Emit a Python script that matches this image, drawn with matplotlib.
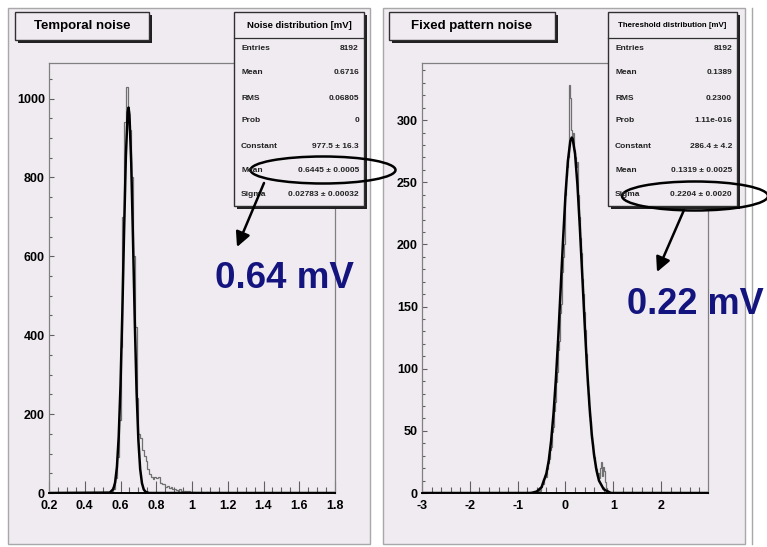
import numpy as np
import matplotlib
matplotlib.use("Agg")
import matplotlib.pyplot as plt
from matplotlib.patches import Rectangle, Ellipse
from matplotlib.ticker import MultipleLocator, FormatStrFormatter

plt.rcParams['font.family'] = ['Liberation Sans', 'DejaVu Sans']

# --- data -------------------------------------------------------------
# temporal noise histogram, 0.01 mV bins starting at 0.55 mV
tn_start, tn_width = 0.55, 0.01
tn_counts = [3, 11, 38, 92, 185, 370, 700, 940, 1030, 950,
             920, 800, 600, 420, 240, 150, 140, 110, 95, 80,
             62, 48, 40, 36, 40, 38, 40, 26, 22, 24,
             15, 17, 12, 14, 9, 11, 8, 6, 9, 5,
             4, 6, 3, 4, 2, 3, 2, 1, 3, 1,
             2, 1, 0, 2, 1, 0, 1, 1, 0, 2,
             0, 1, 0, 0, 1, 0, 0, 1, 0, 0,
             1, 0, 0, 1, 0]
# gaussian fit curve
tn_fit_x = [0.20, 0.54, 0.56, 0.57, 0.58, 0.59, 0.60, 0.61, 0.62, 0.63, 0.64,
            0.645, 0.65, 0.66, 0.67, 0.68, 0.69, 0.70, 0.71, 0.72, 0.73, 0.74,
            0.76, 1.80]
tn_fit_y = [0, 1, 10, 27, 66, 143, 272, 453, 663, 853, 965,
            977, 959, 837, 642, 433, 256, 134, 61, 25, 9, 3,
            0, 0]

# fixed pattern noise histogram, 0.02 mV bins starting at -0.70 mV
fp_start, fp_width = -0.70, 0.02
fp_counts = [0, 1, 0, 1, 0, 2, 1, 3, 2, 5,
             9, 11, 7, 12, 15, 13, 19, 24, 27, 35,
             37, 49, 53, 66, 73, 89, 97, 115, 122, 145,
             152, 178, 190, 200, 228, 240, 255, 262, 270, 328,
             318, 292, 285, 290, 276, 270, 262, 266, 240, 222,
             205, 193, 172, 160, 146, 131, 112, 103, 86, 80,
             62, 58, 44, 40, 31, 29, 20, 19, 14, 16,
             12, 20, 25, 14, 21, 18, 9, 4, 2, 1,
             1, 0, 1, 0, 0]
fp_fit_x = [-3.0, -0.75, -0.70, -0.60, -0.50, -0.40, -0.35, -0.30, -0.25, -0.20,
            -0.15, -0.10, -0.05, 0.00, 0.05, 0.10, 0.13, 0.15, 0.20, 0.25,
            0.30, 0.35, 0.40, 0.45, 0.50, 0.55, 0.60, 0.65, 0.70, 0.80,
            0.95, 2.98]
fp_fit_y = [0, 0, 0.2, 1.2, 4.7, 15.6, 26, 42, 64, 92,
            126, 165, 204, 240, 267, 283, 286, 285, 273, 248,
            214, 176, 137, 101, 71, 47, 30, 18, 10, 3,
            0, 0]

tn_stats_title = "Noise distribution [mV]"
tn_stats = [("Entries", "8192"), ("Mean", "0.6716"), ("RMS", "0.06805"),
            ("Prob", "0"), ("Constant", "977.5 ± 16.3"),
            ("Mean", "0.6445 ± 0.0005"), ("Sigma", "0.02783 ± 0.00032")]
fp_stats_title = "Thereshold distribution [mV]"
fp_stats = [("Entries", "8192"), ("Mean", "0.1389"), ("RMS", "0.2300"),
            ("Prob", "1.11e-016"), ("Constant", "286.4 ± 4.2"),
            ("Mean", "0.1319 ± 0.0025"), ("Sigma", "0.2204 ± 0.0020")]

W, H = 767, 547
bg = '#f0ebf1'
navy = '#14147e'

fig = plt.figure(figsize=(W / 100, H / 100), dpi=100)
fig.patch.set_facecolor('white')


def px_axes(x0, y0, x1, y1, **kw):
    # pixel box (top-left origin) -> figure axes
    return fig.add_axes([x0 / W, 1 - y1 / H, (x1 - x0) / W, (y1 - y0) / H], **kw)


# background layer with the two pads
back = px_axes(0, 0, W, H, zorder=0)
back.set_xlim(0, W)
back.set_ylim(H, 0)
back.axis('off')
back.add_patch(Rectangle((8, 8), 362, 536, facecolor=bg, edgecolor='#a8a8a8', lw=1))
back.add_patch(Rectangle((383, 8), 362, 536, facecolor=bg, edgecolor='#a8a8a8', lw=1))
back.plot([752, 752], [8, 544], color='#a8a8a8', lw=1)


def style_axes(ax, xmaj, xmin, ymaj, ymin):
    ax.set_facecolor('none')
    for s in ['top', 'right', 'left']:
        ax.spines[s].set_color('#808080')
        ax.spines[s].set_linewidth(0.9)
    ax.spines['bottom'].set_color('black')
    ax.spines['bottom'].set_linewidth(1.4)
    ax.xaxis.set_major_locator(MultipleLocator(xmaj))
    ax.xaxis.set_minor_locator(MultipleLocator(xmin))
    ax.yaxis.set_major_locator(MultipleLocator(ymaj))
    ax.yaxis.set_minor_locator(MultipleLocator(ymin))
    ax.xaxis.set_major_formatter(FormatStrFormatter('%g'))
    ax.yaxis.set_major_formatter(FormatStrFormatter('%g'))
    ax.tick_params(axis='x', which='major', direction='in', length=8.5, width=0.8,
                   color='#606060', pad=5, labelsize=9)
    ax.tick_params(axis='x', which='minor', direction='in', length=4.5, width=0.8,
                   color='#606060')
    ax.tick_params(axis='y', which='major', direction='in', length=3.8, width=0.8,
                   color='#606060', pad=3, labelsize=9)
    ax.tick_params(axis='y', which='minor', direction='in', length=2.2, width=0.8,
                   color='#606060')
    for lab in ax.get_xticklabels() + ax.get_yticklabels():
        lab.set_fontweight('bold')


# temporal noise
ax1 = px_axes(49, 63, 335, 493, zorder=1)
edges1 = tn_start + tn_width * np.arange(len(tn_counts) + 1)
ax1.stairs(tn_counts, edges1, color='#707070', lw=0.9)
ax1.plot(tn_fit_x, tn_fit_y, color='black', lw=1.8)
ax1.set_xlim(0.2, 1.8)
ax1.set_ylim(0, 1090)
style_axes(ax1, 0.2, 0.05, 200, 50)

# fixed pattern noise
ax2 = px_axes(422, 63, 708, 493, zorder=1)
edges2 = fp_start + fp_width * np.arange(len(fp_counts) + 1)
ax2.stairs(fp_counts, edges2, color='#707070', lw=0.9)
ax2.plot(fp_fit_x, fp_fit_y, color='black', lw=1.8)
ax2.set_xlim(-3.0, 2.98)
ax2.set_ylim(0, 346)
style_axes(ax2, 1, 0.2, 50, 10)

# overlay: title boxes, stats boxes, annotations
top = px_axes(0, 0, W, H, zorder=3)
top.set_xlim(0, W)
top.set_ylim(H, 0)
top.axis('off')
top.patch.set_alpha(0)


def boxed(x0, y0, x1, y1, shadow=3):
    top.add_patch(Rectangle((x0 + shadow, y0 + shadow), x1 - x0, y1 - y0,
                            facecolor='#202020', edgecolor='none'))
    top.add_patch(Rectangle((x0, y0), x1 - x0, y1 - y0,
                            facecolor=bg, edgecolor='#303030', lw=1))


boxed(15, 12, 149, 40)
top.text(82, 26.5, "Temporal noise", ha='center', va='center', fontsize=9.5,
         fontweight='bold')
boxed(389, 12, 555, 40)
top.text(472, 26.5, "Fixed pattern noise", ha='center', va='center', fontsize=9.5,
         fontweight='bold')

rows_y = [49, 73, 98, 121, 146, 171, 194]


def stats_box(x0, x1, title, rows, tsize):
    boxed(x0, 12, x1, 206, shadow=2.5)
    top.plot([x0, x1], [38, 38], color='#303030', lw=0.9)
    top.text((x0 + x1) / 2, 25.5, title, ha='center', va='center',
             fontsize=tsize, fontweight='bold')
    for (lab, val), y in zip(rows, rows_y):
        top.text(x0 + 7, y, lab, ha='left', va='center', fontsize=6,
                 fontweight='bold', color='#222222')
        top.text(x1 - 5, y, val, ha='right', va='center', fontsize=6,
                 fontweight='bold', color='#222222')


stats_box(234, 364, tn_stats_title, tn_stats, 6.8)
stats_box(608, 737, fp_stats_title, fp_stats, 5.7)

# highlight ellipses and arrows
top.add_patch(Ellipse((323, 170), 145, 27, fill=False, edgecolor='black', lw=1.8))
top.add_patch(Ellipse((695, 196), 146, 29, fill=False, edgecolor='black', lw=1.8))
top.annotate('', xy=(237, 247), xytext=(264, 183),
             arrowprops=dict(arrowstyle='-|>', color='black', lw=1.8,
                             mutation_scale=22, shrinkA=0, shrinkB=0))
top.annotate('', xy=(657, 272), xytext=(684, 210),
             arrowprops=dict(arrowstyle='-|>', color='black', lw=1.8,
                             mutation_scale=22, shrinkA=0, shrinkB=0))

top.text(284, 279, "0.64 mV", ha='center', va='center', fontsize=26.5,
         fontweight='bold', color=navy)
top.text(695, 305, "0.22 mV", ha='center', va='center', fontsize=26,
         fontweight='bold', color=navy)

fig.savefig('out.png', dpi=100, facecolor='white')
